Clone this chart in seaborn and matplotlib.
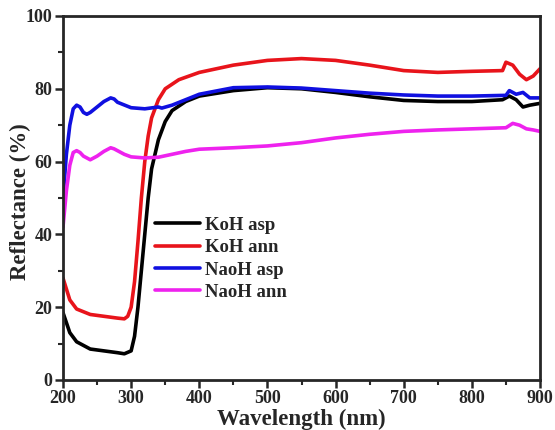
import numpy as np
import pandas as pd
import matplotlib.pyplot as plt
import seaborn as sns
from matplotlib.lines import Line2D
from matplotlib.ticker import MultipleLocator

# datos (longitud de onda en nm, reflectancia en %)
wl_koh_asp = [200, 210, 220, 240, 260, 280, 290, 300, 305, 310, 315, 320, 325, 330, 340, 350, 360, 380,
              400, 450, 500, 550, 600, 650, 700, 750, 800, 845, 855, 865, 875, 885, 900]
r_koh_asp = [18.5, 13, 10.5, 8.5, 8, 7.5, 7.2, 8, 12, 20, 30, 40, 50, 58, 66, 71, 74, 76.5,
             78, 79.5, 80.3, 80, 79, 77.8, 76.8, 76.5, 76.5, 77, 78, 77, 75, 75.5, 76]

wl_koh_ann = [200, 210, 220, 240, 260, 280, 290, 295, 300, 305, 310, 315, 320, 325, 330, 340, 350, 370,
              400, 450, 500, 550, 600, 650, 700, 750, 800, 845, 850, 860, 870, 880, 890, 900]
r_koh_ann = [28, 22, 19.5, 18, 17.5, 17, 16.8, 17.5, 20, 27, 38, 50, 60, 67, 72, 77, 80, 82.5,
             84.5, 86.5, 87.8, 88.3, 87.8, 86.5, 85, 84.5, 84.8, 85, 87.3, 86.5, 84, 82.5, 83.5, 85.5]

wl_naoh_asp = [200, 205, 210, 215, 220, 225, 230, 235, 240, 250, 260, 270, 275, 280, 300, 320, 340, 345,
               360, 380, 400, 450, 500, 550, 600, 650, 700, 750, 800, 850, 855, 865, 875, 885, 900]
r_naoh_asp = [50, 62, 70, 74.5, 75.5, 75, 73.5, 73, 73.5, 75, 76.5, 77.5, 77.2, 76.3, 74.8, 74.5, 75, 74.7,
              75.5, 77, 78.5, 80.3, 80.5, 80.2, 79.5, 78.8, 78.3, 78, 78, 78.2, 79.5, 78.5, 79, 77.5, 77.5]

wl_naoh_ann = [200, 205, 210, 215, 220, 225, 230, 240, 250, 260, 270, 275, 290, 300, 320, 340, 360, 380,
               400, 450, 500, 550, 600, 650, 700, 750, 800, 850, 860, 870, 880, 890, 900]
r_naoh_ann = [42, 52, 59, 62.5, 63, 62.5, 61.5, 60.5, 61.5, 62.8, 63.8, 63.5, 62, 61.3, 61, 61.2, 62, 62.8,
              63.4, 63.8, 64.3, 65.2, 66.5, 67.5, 68.3, 68.7, 69, 69.3, 70.5, 70, 69, 68.7, 68.3]

nombres = ['KoH asp', 'KoH ann', 'NaoH asp', 'NaoH ann']
colores = ['#000000', '#e8141b', '#1010e0', '#ee22ee']

frames = []
for nombre, wl, r in zip(nombres,
                         [wl_koh_asp, wl_koh_ann, wl_naoh_asp, wl_naoh_ann],
                         [r_koh_asp, r_koh_ann, r_naoh_asp, r_naoh_ann]):
    frames.append(pd.DataFrame({'wl': wl, 'R': r, 'muestra': nombre}))
data = pd.concat(frames, ignore_index=True)

sns.set_style('ticks')
plt.rcParams['font.family'] = ['Liberation Serif', 'DejaVu Serif']
plt.rcParams['font.weight'] = 'bold'

fig = plt.figure(figsize=(5.55, 4.3), dpi=100)
ax = fig.add_axes([0.1135, 0.1163, 0.8595, 0.8465])

sns.lineplot(data=data, x='wl', y='R', hue='muestra', hue_order=nombres,
             palette=colores, linewidth=2.6, estimator=None, sort=False, ax=ax, legend=False)

ax.set_xlim(200, 900)
ax.set_ylim(0, 100)
ax.xaxis.set_major_locator(MultipleLocator(100))
ax.xaxis.set_minor_locator(MultipleLocator(50))
ax.yaxis.set_major_locator(MultipleLocator(20))
ax.yaxis.set_minor_locator(MultipleLocator(10))
ax.tick_params(which='major', direction='out', length=6, width=1.8, labelsize=13, pad=1.5)
ax.tick_params(which='minor', direction='out', length=3.5, width=1.5)
for lab in ax.get_xticklabels() + ax.get_yticklabels():
    lab.set_fontweight('bold')
for s in ax.spines.values():
    s.set_linewidth(2)
    s.set_visible(True)

ax.set_xlabel('Wavelength (nm)', fontsize=16.5, fontweight='bold', labelpad=1)
ax.set_ylabel('Reflectance (%)', fontsize=16.5, fontweight='bold')
ax.yaxis.set_label_coords(-0.067, 0.49)

handles = [Line2D([], [], color=c, linewidth=2.6) for c in colores]
ax.legend(handles, nombres, loc='upper left', bbox_to_anchor=(0.158, 0.495), frameon=False,
          handlelength=2.4, handletextpad=0.25, labelspacing=0.28,
          prop={'family': 'Liberation Serif', 'weight': 'bold', 'size': 13.5})

fig.savefig('out.png', dpi=100)
